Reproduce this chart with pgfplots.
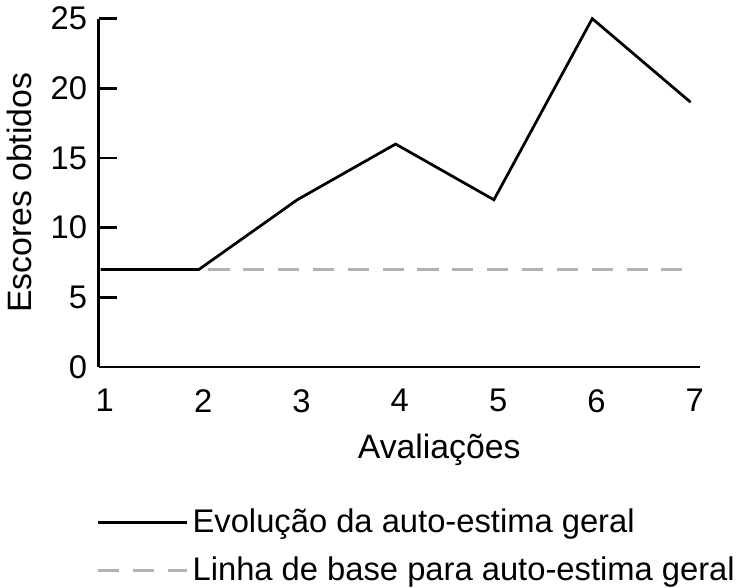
\documentclass[border=0pt]{standalone}
\usepackage{fontspec}
\setmainfont{Liberation Sans}
\usepackage{pgfplots}
\pgfplotsset{compat=1.18}
\begin{document}
\begin{tikzpicture}
\begin{axis}[
 scale only axis, width=285pt, height=165pt,
 xmin=0.98, xmax=7.1, ymin=0, ymax=25,
 clip=false,
 axis lines=left, axis line style={line width=1.3pt, -},
 xtick={1,2,3,4,5,6,7}, ytick={0,5,10,15,20,25},
 major tick length=8.5pt, tick align=inside,
 xtick style={draw=none},
 ytick style={line width=1.3pt, black},
 tick label style={font=\fontsize{15.5}{17}\selectfont},
 /pgf/number format/assume math mode=true,
 xticklabel style={yshift=-7pt, xshift=2pt},
 yticklabel style={xshift=-2pt},
 xlabel={Avaliações}, ylabel={Escores obtidos},
 label style={font=\fontsize{16}{18}\selectfont},
 xlabel style={at={(rel axis cs:0.566,0)}, anchor=north, yshift=-28pt},
 ylabel style={yshift=2pt},
 legend style={at={(rel axis cs:0,0)}, anchor=north west, yshift=-65pt, xshift=-1pt, draw=none, fill=none, font=\fontsize{15.5}{17}\selectfont, row sep=6pt, inner sep=0pt},
 legend cell align=left,
 legend image code/.code={\draw[#1, dash phase=0pt] (0pt,0pt) -- (42pt,0pt);},
]
\addplot[black, line width=1.3pt] coordinates {(1,7)(2,7)(3,12)(4,16)(5,12)(6,25)(7,19)};
\addlegendentry{Evolução da auto-estima geral}
\addplot[color=black!30, line width=1.2pt, dash pattern=on 10pt off 6.5pt, dash phase=12pt] coordinates {(2,7)(7,7)};
\addlegendentry{Linha de base para auto-estima geral}
\end{axis}
\end{tikzpicture}
\end{document}
